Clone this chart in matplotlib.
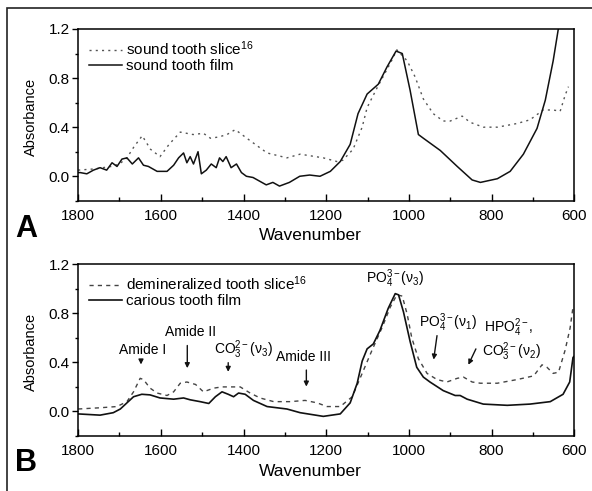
import matplotlib.pyplot as plt
from matplotlib.patches import Rectangle
from matplotlib.ticker import MultipleLocator, FormatStrFormatter

plt.rcParams['font.family'] = ['Liberation Sans', 'DejaVu Sans']
plt.rcParams['mathtext.fontset'] = 'custom'
plt.rcParams['mathtext.rm'] = 'Liberation Sans'
plt.rcParams['mathtext.it'] = 'Liberation Sans'

# panel A: sound tooth film (solid)
film_w = [1800, 1795, 1779, 1763, 1747, 1731, 1718, 1706, 1694, 1682, 1669, 1654, 1642, 1630,
          1609, 1585, 1569, 1557, 1545, 1537, 1529, 1521, 1510, 1502, 1490, 1478, 1466, 1458,
          1450, 1442, 1430, 1417, 1405, 1393, 1377, 1361, 1345, 1329, 1313, 1289, 1264, 1240,
          1215, 1190, 1166, 1142, 1123, 1101, 1074, 1053, 1031, 1016, 997, 977, 965, 924, 883,
          847, 827, 786, 755, 723, 690, 670, 651, 639, 630]
film_a = [0.03, 0.03, 0.02, 0.05, 0.07, 0.05, 0.11, 0.08, 0.14, 0.15, 0.10, 0.15, 0.09, 0.08,
          0.04, 0.04, 0.09, 0.15, 0.19, 0.11, 0.16, 0.10, 0.20, 0.02, 0.05, 0.10, 0.07, 0.15,
          0.12, 0.16, 0.07, 0.10, 0.03, 0.00, -0.01, -0.04, -0.07, -0.05, -0.08, -0.05, 0.00, 0.01,
          0.00, 0.04, 0.12, 0.26, 0.51, 0.67, 0.75, 0.89, 1.02, 1.00, 0.70, 0.34, 0.31, 0.21, 0.08,
          -0.03, -0.05, -0.02, 0.04, 0.18, 0.39, 0.62, 0.94, 1.19, 1.35]

# panel A: sound tooth slice (dotted)
slice_w = [1800, 1760, 1720, 1700, 1682, 1665, 1645, 1625, 1602, 1580, 1553, 1522, 1497, 1480,
           1460, 1440, 1420, 1400, 1384, 1343, 1295, 1263, 1207, 1174, 1160, 1135, 1113, 1101,
           1077, 1045, 1029, 1004, 985, 965, 941, 917, 900, 871, 852, 820, 786, 738, 707, 675,
           651, 634, 622, 614]
slice_a = [0.05, 0.06, 0.08, 0.10, 0.15, 0.24, 0.33, 0.22, 0.16, 0.26, 0.36, 0.34, 0.35, 0.31,
           0.32, 0.34, 0.38, 0.33, 0.29, 0.19, 0.15, 0.18, 0.15, 0.12, 0.13, 0.22, 0.40, 0.56,
           0.72, 0.92, 1.03, 0.94, 0.81, 0.63, 0.51, 0.45, 0.45, 0.49, 0.44, 0.40, 0.40, 0.43,
           0.46, 0.54, 0.54, 0.53, 0.66, 0.73]

# panel B: carious tooth film (solid)
car_w = [1800, 1747, 1715, 1698, 1682, 1666, 1646, 1626, 1602, 1569, 1545, 1529, 1505, 1484,
         1468, 1452, 1437, 1424, 1412, 1396, 1376, 1343, 1295, 1263, 1207, 1166, 1142, 1125,
         1113, 1101, 1086, 1070, 1050, 1033, 1025, 1013, 997, 981, 965, 949, 917, 888, 876,
         859, 820, 762, 707, 658, 627, 611, 603, 600]
car_a = [-0.02, -0.03, -0.01, 0.02, 0.07, 0.12, 0.14, 0.135, 0.11, 0.10, 0.11, 0.095, 0.08,
         0.065, 0.12, 0.16, 0.14, 0.12, 0.15, 0.14, 0.09, 0.04, 0.02, -0.01, -0.04, -0.02, 0.07,
         0.23, 0.41, 0.51, 0.55, 0.66, 0.84, 0.96, 0.95, 0.81, 0.57, 0.36, 0.28, 0.24, 0.17,
         0.13, 0.13, 0.10, 0.06, 0.05, 0.06, 0.08, 0.14, 0.24, 0.44, 0.45]

# panel B: demineralized tooth slice (dashed)
dem_w = [1800, 1747, 1706, 1682, 1666, 1650, 1642, 1626, 1609, 1585, 1569, 1553, 1537, 1516,
         1497, 1472, 1452, 1424, 1408, 1384, 1360, 1327, 1287, 1251, 1222, 1198, 1166, 1137,
         1113, 1089, 1064, 1045, 1029, 1016, 1004, 993, 977, 956, 932, 908, 883, 868, 847, 827,
         786, 738, 698, 678, 666, 651, 638, 622, 610, 603]
dem_a = [0.02, 0.03, 0.04, 0.08, 0.16, 0.27, 0.26, 0.19, 0.15, 0.13, 0.16, 0.23, 0.24, 0.22,
         0.16, 0.19, 0.20, 0.20, 0.20, 0.15, 0.11, 0.08, 0.08, 0.09, 0.07, 0.04, 0.04, 0.12,
         0.31, 0.50, 0.69, 0.85, 0.95, 0.94, 0.79, 0.60, 0.43, 0.31, 0.26, 0.24, 0.27, 0.28,
         0.24, 0.23, 0.23, 0.26, 0.29, 0.38, 0.36, 0.31, 0.32, 0.50, 0.68, 0.85]

# band labels for panel B: text, text position, arrow start, arrow end
bands = [
    ('Amide I', (1643, 0.50), (1648, 0.44), (1648, 0.36)),
    ('Amide II', (1529, 0.65), (1536, 0.56), (1536, 0.33)),
    (r'CO$_3^{2-}$($\nu_3$)', (1401, 0.50), (1437, 0.42), (1437, 0.30)),
    ('Amide III', (1256, 0.44), (1248, 0.36), (1248, 0.18)),
    (r'PO$_4^{3-}$($\nu_1$)', (905, 0.72), (931, 0.64), (941, 0.40)),
    (r'CO$_3^{2-}$($\nu_2$)', (752, 0.49), (835, 0.53), (859, 0.36)),
]

fig = plt.figure(figsize=(5.92, 4.91), dpi=100)
fig.patch.set_facecolor('white')

# outer frame of the scanned figure
fig.add_artist(Rectangle((0.012, -0.02), 1.0, 1.004, transform=fig.transFigure,
                         fill=False, lw=1.2, color='#222222'))

axA = fig.add_axes([0.132, 0.591, 0.838, 0.350])
axB = fig.add_axes([0.132, 0.112, 0.838, 0.350])

axA.plot(slice_w, slice_a, color='#555555', lw=1.0, ls=(0, (1.5, 3)),
         label='sound tooth slice$^{16}$')
axA.plot(film_w, film_a, color='#111111', lw=1.1, label='sound tooth film')

axB.plot(dem_w, dem_a, color='#444444', lw=1.0, ls=(0, (3, 3)),
         label='demineralized tooth slice$^{16}$')
axB.plot(car_w, car_a, color='#111111', lw=1.2, label='carious tooth film')

for ax in (axA, axB):
    ax.set_xlim(1800, 600)
    ax.set_ylim(-0.2, 1.2)
    ax.xaxis.set_major_locator(MultipleLocator(200))
    ax.xaxis.set_minor_locator(MultipleLocator(100))
    ax.yaxis.set_major_locator(MultipleLocator(0.4))
    ax.yaxis.set_minor_locator(MultipleLocator(0.2))
    ax.yaxis.set_major_formatter(FormatStrFormatter('%.1f'))
    ax.tick_params(axis='x', which='major', direction='in', length=5, width=1, pad=6, labelsize=11)
    ax.tick_params(axis='x', which='minor', direction='in', length=3, width=1)
    ax.tick_params(axis='y', which='major', direction='out', length=4, width=1, pad=2, labelsize=11)
    ax.tick_params(axis='y', which='minor', direction='out', length=2, width=1)
    ax.yaxis.set_ticks([0.0, 0.4, 0.8, 1.2])
    for s in ax.spines.values():
        s.set_linewidth(1.1)
    ax.set_xlabel('Wavenumber', fontsize=12.5)
    ax.xaxis.set_label_coords(0.468, -0.16)
    ax.set_ylabel('Absorbance', fontsize=10.5)
    ax.yaxis.set_label_coords(-0.081, 0.49)
    ax.legend(loc='upper left', frameon=False, fontsize=11, handlelength=2.2,
              handletextpad=0.2, labelspacing=0.05, borderaxespad=0.3)

# band annotations in panel B
axB.text(1033, 1.08, r'PO$_4^{3-}$($\nu_3$)', fontsize=10, ha='center', va='center')
axB.text(758, 0.68, r'HPO$_4^{2-}$,', fontsize=10, ha='center', va='center')
for label, txt, start, end in bands:
    axB.text(txt[0], txt[1], label, fontsize=10, ha='center', va='center')
    axB.annotate('', xy=end, xytext=start,
                 arrowprops=dict(arrowstyle='-|>', color='#111111', lw=1.0, mutation_scale=7))

fig.text(0.044, 0.534, 'A', fontsize=22, fontweight='bold', ha='center', va='center')
fig.text(0.044, 0.057, 'B', fontsize=22, fontweight='bold', ha='center', va='center')

plt.savefig('out.png', dpi=100)
plt.close()
